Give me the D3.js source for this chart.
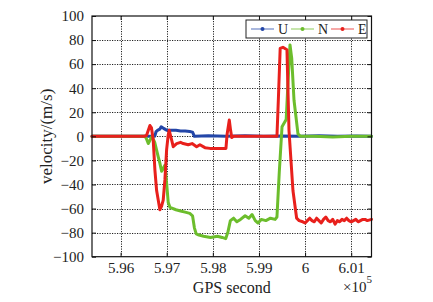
<!DOCTYPE html>
<html>
<head>
<meta charset="utf-8">
<script src="https://cdn.jsdelivr.net/npm/d3@7"></script>
<style>
  body { margin: 0; background: #fff; }
  svg text { font-family: "Liberation Serif", "Times New Roman", Times, "DejaVu Serif", serif; fill: #222; }
</style>
</head>
<body>
<div id="chart"></div>
<script>
    var width = 433, height = 302;
    var margin = { left: 92, right: 61.5, top: 16, bottom: 45.3 };
    var serif = "Liberation Serif, Times New Roman, serif";

    // GPS seconds / velocity (m/s)
    var uT = [595380, 596740, 596770, 596800, 596850, 596880, 596920, 596960, 597000, 597100, 597200, 597300, 597400, 597500, 597560, 597600, 597900, 598300, 598700, 599100, 599500, 599900, 600300, 600700, 601100, 601440];
    var uV = [0, 0, 4, 5, 6, 8, 7, 6, 5, 5, 5, 4.5, 4.5, 4, 3.5, 0, 0.5, 0, 0.5, 0, 0.3, 0, 0.5, 0, 0.3, 0];

    var nT = [595380, 596530, 596560, 596600, 596640, 596680, 596740, 596816, 596850, 596889, 596960, 597000, 597033, 597070, 597200, 597300, 597400, 597500, 597560, 597600, 597640, 597700, 597800, 597950, 598100, 598200, 598280, 598330, 598380, 598450, 598520, 598600, 598700, 598780, 598850, 598920, 598980, 599050, 599150, 599250, 599350, 599390, 599440, 599500, 599590, 599630, 599673, 599710, 599760, 599846, 599900, 600200, 600600, 601000, 601440];
    var nV = [0, 0, -2, -6, -3, 0, -5, -17, -22, -29, -24, -40, -55, -59, -61, -62, -63, -64, -66, -76, -81, -82, -83, -84, -83, -84, -85, -79, -70, -68, -71, -69, -66, -68, -65, -70, -72, -69, -70, -68, -69, -67, -30, 8, 14, 45, 76, 65, 30, 2, 0, 0, -0.5, 0, 0];

    var eT = [595380, 596520, 596564, 596636, 596670, 596707, 596744, 596781, 596852, 596889, 596924, 596961, 596998, 597032, 597054, 597106, 597141, 597215, 597300, 597358, 597466, 597550, 597648, 597720, 597829, 597937, 598100, 598284, 598310, 598357, 598385, 598410, 598450, 598700, 599000, 599390, 599420, 599460, 599520, 599607, 599651, 599737, 599817, 599870, 599950, 600000, 600050, 600100, 600150, 600200, 600250, 600300, 600350, 600400, 600450, 600500, 600550, 600600, 600650, 600700, 600750, 600800, 600850, 600900, 600950, 601000, 601050, 601100, 601150, 601200, 601250, 601300, 601350, 601440];
    var eV = [0, 0, 1, 9, 7, -3, -28, -45, -61, -58, -53, -36, -11, 1, 5, -3, -8.6, -6, -5, -6, -7, -6, -8.6, -7, -9.4, -10, -10, -10, 2, 13.5, 5, -1, 0, 0, 0, 0, 30, 73, 74, 72, 5, -45, -68, -70, -71, -72, -70, -68, -70, -71, -68, -70, -72, -69, -67, -70, -71, -69, -73, -70, -71, -69, -70, -68, -70, -71, -70, -69, -71, -70, -69, -69, -70, -69];

    var xTicks = [596000, 597000, 598000, 599000, 600000, 601000];
    var yTicks = [-100, -80, -60, -40, -20, 0, 20, 40, 60, 80, 100];

    var series = [
        { name: "U", t: uT, v: uV, color: "#2346a8" },
        { name: "N", t: nT, v: nV, color: "#6cbd2c" },
        { name: "E", t: eT, v: eV, color: "#e8201c" }
    ];

    var svg = d3.select("#chart").append("svg")
        .attr("width", width)
        .attr("height", height)
        .attr("font-family", serif);

    var x = d3.scaleLinear()
        .domain([595380, 601440])
        .range([margin.left, width - margin.right]);
    var y = d3.scaleLinear()
        .domain([-100, 100])
        .range([height - margin.bottom, margin.top]);

    var x0 = x.range()[0], x1 = x.range()[1];
    var y0 = y.range()[0], y1 = y.range()[1];

    // 网格
    var grid = svg.append("g").attr("stroke", "#222").attr("stroke-width", 1).attr("stroke-dasharray", "1.2,1.3");
    grid.selectAll(".gx").data(xTicks).enter().append("line")
        .attr("x1", function (d) { return Math.round(x(d)) + 0.5; })
        .attr("x2", function (d) { return Math.round(x(d)) + 0.5; })
        .attr("y1", y1).attr("y2", y0);
    grid.selectAll(".gy").data(yTicks.slice(1, -1)).enter().append("line")
        .attr("y1", function (d) { return Math.round(y(d)) + 0.5; })
        .attr("y2", function (d) { return Math.round(y(d)) + 0.5; })
        .attr("x1", x0).attr("x2", x1);

    // 曲线
    var line = d3.line()
        .x(function (d) { return x(d[0]); })
        .y(function (d) { return y(d[1]); });

    svg.append("g").selectAll("path")
        .data(series)
        .enter().append("path")
        .attr("d", function (s) { return line(d3.zip(s.t, s.v)); })
        .attr("fill", "none")
        .attr("stroke", function (s) { return s.color; })
        .attr("stroke-width", 3)
        .attr("stroke-linejoin", "round")
        .attr("stroke-linecap", "round");

    // 坐标轴
    var fmtX = function (d) { return String(+(d / 1e5).toFixed(2)); };
    var axB = svg.append("g").attr("transform", "translate(0," + y0 + ")")
        .call(d3.axisBottom(x).tickValues(xTicks).tickFormat(fmtX).tickSizeInner(-4).tickSizeOuter(0).tickPadding(6));
    var axT = svg.append("g").attr("transform", "translate(0," + y1 + ")")
        .call(d3.axisTop(x).tickValues(xTicks).tickFormat("").tickSizeInner(-4).tickSizeOuter(0));
    var axL = svg.append("g").attr("transform", "translate(" + x0 + ",0)")
        .call(d3.axisLeft(y).tickValues(yTicks).tickSizeInner(-4).tickSizeOuter(0).tickPadding(8));
    var axR = svg.append("g").attr("transform", "translate(" + x1 + ",0)")
        .call(d3.axisRight(y).tickValues(yTicks).tickFormat("").tickSizeInner(-4).tickSizeOuter(0));

    [axB, axT, axL, axR].forEach(function (a) {
        a.attr("font-family", serif).attr("font-size", 15);
        a.select(".domain").remove();
        a.selectAll("line").attr("stroke", "#111");
        a.selectAll("text").attr("fill", "#222");
    });

    svg.append("rect")
        .attr("x", x0).attr("y", y1)
        .attr("width", x1 - x0).attr("height", y0 - y1)
        .attr("fill", "none").attr("stroke", "#111").attr("stroke-width", 1.2);

    // 轴标题
    svg.append("text")
        .attr("x", (x0 + x1) / 2).attr("y", 293)
        .attr("text-anchor", "middle")
        .attr("font-size", 16)
        .text("GPS second");
    var ex = svg.append("text").attr("x", 343).attr("y", 292).attr("font-size", 15);
    ex.append("tspan").text("×10");
    ex.append("tspan").attr("dy", -9).attr("font-size", 11).text("5");

    svg.append("text")
        .attr("transform", "translate(52," + (y0 + y1) / 2 + ") rotate(-90)")
        .attr("text-anchor", "middle")
        .attr("font-size", 17)
        .text("velocity/(m/s)");

    // 图例
    var lg = svg.append("g");
    lg.append("rect")
        .attr("x", 246).attr("y", 20).attr("width", 121).attr("height", 18)
        .attr("fill", "#fff").attr("stroke", "#222").attr("stroke-width", 1);
    var items = lg.selectAll("g.item").data(series).enter().append("g")
        .attr("transform", function (s, i) { return "translate(" + (251 + i * 40) + ",29)"; });
    items.append("line")
        .attr("x1", 0).attr("x2", 23).attr("y1", 0).attr("y2", 0)
        .attr("stroke", function (s) { return s.color; })
        .attr("stroke-opacity", 0.6).attr("stroke-width", 1.3);
    items.append("circle")
        .attr("cx", 11.5).attr("cy", 0).attr("r", 2)
        .attr("fill", function (s) { return s.color; });
    items.append("text")
        .attr("x", 27).attr("y", 5)
        .attr("font-size", 14).attr("fill", "#555")
        .text(function (s) { return s.name; });
</script>
</body>
</html>
